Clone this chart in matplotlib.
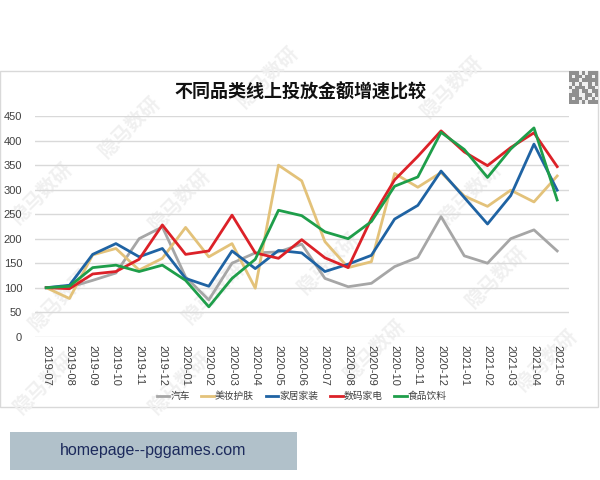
import matplotlib.pyplot as plt
import numpy as np
from matplotlib.patches import Rectangle

plt.rcParams['font.family'] = ['Noto Sans CJK SC', 'DejaVu Sans']

months = ["2019-07", "2019-08", "2019-09", "2019-10", "2019-11", "2019-12",
          "2020-01", "2020-02", "2020-03", "2020-04", "2020-05", "2020-06",
          "2020-07", "2020-08", "2020-09", "2020-10", "2020-11", "2020-12",
          "2021-01", "2021-02", "2021-03", "2021-04", "2021-05"]

car = [100, 101, 115, 130, 200, 224, 122, 75, 150, 171, 173, 189,
       119, 102, 109, 143, 162, 245, 165, 150, 200, 218, 175]
beauty = [100, 78, 167, 180, 136, 160, 223, 163, 190, 99, 350, 318,
          194, 141, 153, 333, 305, 335, 287, 266, 299, 275, 328]
home = [100, 105, 168, 190, 163, 180, 119, 103, 175, 139, 176, 171,
        133, 148, 166, 240, 268, 338, 284, 230, 288, 393, 299]
digital = [100, 98, 128, 133, 158, 228, 168, 175, 248, 171, 160, 198,
           161, 141, 241, 320, 368, 420, 377, 349, 386, 416, 347]
food = [100, 103, 141, 146, 133, 146, 115, 61, 119, 158, 258, 247,
        214, 200, 235, 307, 326, 417, 382, 325, 383, 426, 279]

series = [("汽车", car, "#A6A6A6"),
          ("美妆护肤", beauty, "#E3C27A"),
          ("家居家装", home, "#1F63A3"),
          ("数码家电", digital, "#DC2128"),
          ("食品饮料", food, "#1E9E4A")]

fig = plt.figure(figsize=(6, 4.8), dpi=100)

# chart frame
fig.patches.append(Rectangle((0.0, 0.152), 0.997, 0.700, transform=fig.transFigure,
                             facecolor="white", edgecolor="#D9D9D9", lw=1, zorder=0))

# watermarks
marks = [(130, 127), (268, 77), (452, 87), (42, 193), (180, 200), (471, 193),
         (214, 293), (329, 263), (497, 277), (45, 383), (180, 383), (375, 350),
         (547, 360), (60, 300)]
for px, py in marks:
    fig.text(px / 600, 1 - py / 480, "隐马数研", rotation=45, ha="center", va="center",
             fontsize=14, fontweight="bold", color="#F0F0F0", zorder=1)

ax = fig.add_axes([0.0577, 0.2985, 0.8903, 0.4595])
ax.set_zorder(2)
ax.set_facecolor("none")
x = np.arange(len(months))
for name, vals, color in series:
    ax.plot(x, vals, color=color, lw=2, label=name, zorder=3)

ax.set_xlim(-0.5, len(months) - 0.5)
ax.set_ylim(0, 450)
ax.set_yticks(np.arange(0, 451, 50))
ax.set_xticks(x)
ax.set_xticklabels(months, rotation=-90, fontsize=8, color="#404040",
                   family=["Liberation Sans"])
ax.tick_params(axis="y", length=0, pad=9, labelsize=8, labelcolor="#404040")
ax.tick_params(axis="x", length=0, pad=6)
for lab in ax.get_yticklabels():
    lab.set_fontfamily(['Liberation Sans'])
ax.grid(axis="y", color="#D9D9D9", lw=1)
ax.set_axisbelow(True)
for s in ax.spines.values():
    s.set_visible(False)

leg = ax.legend(loc="center", bbox_to_anchor=(0.5, 1 - (396 - 116) / 220.7),
                ncol=5, frameon=False, fontsize=7, handlelength=1.3,
                handletextpad=0.1, columnspacing=1.2)
for t in leg.get_texts():
    t.set_color("#404040")

fig.text(0.5, 0.808, "不同品类线上投放金额增速比较", ha="center", va="center",
         fontsize=13, fontweight="bold", color="#111111", zorder=3)

# qr code placeholder
qr = fig.add_axes([569 / 600, 1 - 104 / 480, 29 / 600, 33 / 480])
qr.set_zorder(3)
qr_pattern = np.array([[1, 1, 1, 0, 1, 0, 1, 1, 1],
                       [1, 0, 1, 1, 0, 1, 1, 0, 1],
                       [1, 1, 1, 0, 1, 1, 1, 1, 1],
                       [0, 1, 0, 1, 0, 0, 1, 0, 1],
                       [1, 0, 1, 1, 1, 0, 1, 1, 0],
                       [0, 1, 1, 0, 1, 1, 0, 1, 1],
                       [1, 1, 1, 0, 0, 1, 1, 0, 1],
                       [1, 0, 1, 1, 0, 1, 0, 1, 0],
                       [1, 1, 1, 0, 1, 0, 1, 1, 1]])
qr.imshow(qr_pattern, cmap="Greys", vmin=-0.3, vmax=2.2, aspect="auto")
qr.axis("off")

# bottom banner
fig.patches.append(Rectangle((10 / 600, 1 - 470 / 480), 287 / 600, 38 / 480,
                             transform=fig.transFigure, facecolor="#B1C1CA",
                             edgecolor="none"))
fig.text(153 / 600, 1 - 451 / 480, "homepage--pggames.com", ha="center", va="center",
         fontsize=11.5, color="#1C2A5C", family=["Liberation Sans", "DejaVu Sans"])

plt.savefig("out.png", dpi=100)
